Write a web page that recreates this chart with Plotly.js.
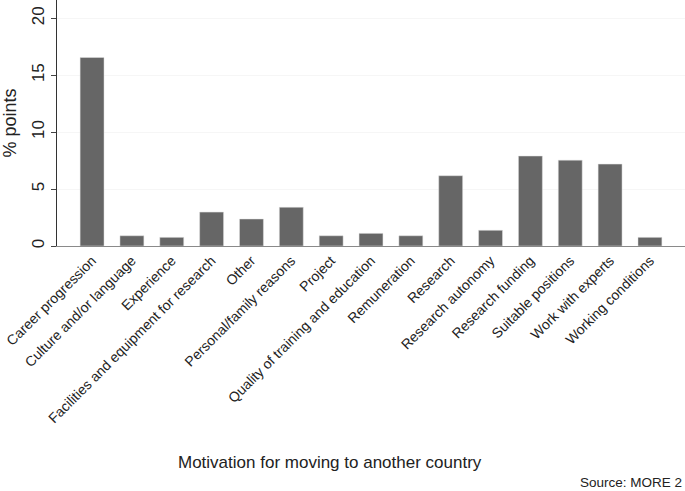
<!DOCTYPE html>
<html>
<head>
<meta charset="utf-8">
<script src="https://cdn.plot.ly/plotly-3.0.1.min.js"></script>
<style>
  html, body { margin: 0; padding: 0; background: #fff; }
  #plot { width: 685px; height: 491px; }
</style>
</head>
<body>
<div id="plot"></div>
<script>
// Motivation categories and % points
const categories = [
    'Career progression', 'Culture and/or language', 'Experience',
    'Facilities and equipment for research', 'Other', 'Personal/family reasons',
    'Project', 'Quality of training and education', 'Remuneration', 'Research',
    'Research autonomy', 'Research funding', 'Suitable positions',
    'Work with experts', 'Working conditions'
];
const values = [16.55, 0.9, 0.76, 2.98, 2.37, 3.4, 0.9, 1.11, 0.9, 6.17, 1.38, 7.9, 7.54, 7.19, 0.76];
const yTicks = [0, 5, 10, 15, 20];

const trace = {
    x: categories,
    y: values,
    type: 'bar',
    width: 0.6,
    marker: { color: '#666666', line: { color: '#e0e0e0', width: 0.5 } },
    hoverinfo: 'x+y'
};

const layout = {
    width: 685,
    height: 491,
    margin: { l: 57, r: 0, t: 0, b: 245 },
    paper_bgcolor: '#ffffff',
    plot_bgcolor: '#ffffff',
    font: { family: 'Liberation Sans, Arial, sans-serif', color: '#222' },
    showlegend: false,
    xaxis: {
        type: 'category',
        range: [-0.88, 14.88],
        tickangle: -45,
        tickfont: { size: 14, color: '#222' },
        showline: true,
        linecolor: '#8a8a8a',
        linewidth: 1,
        ticks: '',
        showgrid: false,
        zeroline: false,
        automargin: false
    },
    yaxis: {
        range: [0, 21.6],
        tickvals: yTicks,
        tickangle: -90,
        tickfont: { size: 17, color: '#222' },
        ticks: 'outside',
        ticklen: 5,
        tickcolor: '#444',
        showline: true,
        linecolor: '#333',
        linewidth: 1,
        showgrid: true,
        gridcolor: '#f6f6f6',
        zeroline: false,
        automargin: false,
        title: { text: '% points', font: { size: 18, color: '#222' }, standoff: 8 }
    },
    annotations: [
        {
            text: 'Motivation for moving to another country',
            xref: 'paper', yref: 'paper',
            x: 0.435, y: -0.882,
            xanchor: 'center', yanchor: 'middle',
            showarrow: false,
            font: { size: 17, color: '#222' }
        },
        {
            text: 'Source: MORE 2',
            xref: 'paper', yref: 'paper',
            x: 0.998, y: -0.962,
            xanchor: 'right', yanchor: 'middle',
            showarrow: false,
            font: { size: 13.5, color: '#222' }
        }
    ]
};

Plotly.newPlot('plot', [trace], layout, { displayModeBar: false, staticPlot: true });
</script>
</body>
</html>
